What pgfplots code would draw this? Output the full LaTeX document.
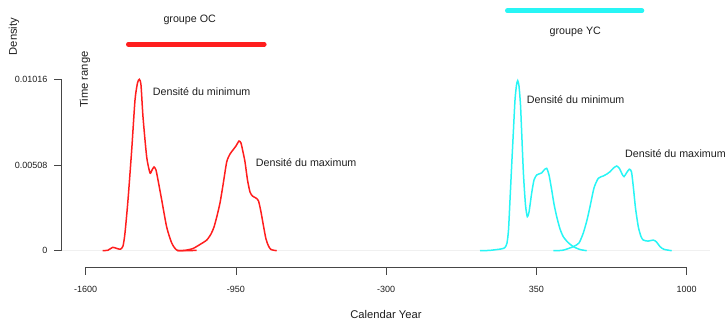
\documentclass[border=0pt]{standalone}
\usepackage{pgfplots}
\pgfplotsset{compat=1.18}
\usepackage{fontspec}
\setmainfont{Liberation Sans}
\definecolor{rred}{RGB}{255,30,30}
\definecolor{rcyan}{RGB}{40,245,245}
\definecolor{axgray}{RGB}{70,70,70}
\definecolor{txt}{RGB}{30,30,30}
\begin{document}
\begin{tikzpicture}
\useasboundingbox (0,0) rectangle (727bp,322bp);
% detached R-style y axis
\begin{axis}[
 at={(61.7bp,71.3bp)}, anchor=south west,
 scale only axis, width=10bp, height=171.4bp,
 xmin=0, xmax=1, ymin=0, ymax=0.01016,
 scaled y ticks=false,
 axis y line*=left, axis x line=none,
 axis line style={-, axgray, line width=1bp},
 tick align=outside, major tick length=7.5bp,
 ytick={0,0.00508,0.01016}, yticklabels={0,0.00508,0.01016},
 ytick style={axgray, line width=0.8bp},
 yticklabel shift=6.5bp,
 tick label style={font=\fontsize{9bp}{10bp}\selectfont, inner sep=0pt, text=txt},
]
\addplot[draw=none] coordinates {(0,0) (1,0.01016)};
\end{axis}
\begin{axis}[
 at={(85.7bp,71.3bp)}, anchor=south west,
 scale only axis, width=601bp, height=171.4bp,
 xmin=-1600, xmax=1000, ymin=0, ymax=0.01016,
 clip=false, scaled x ticks=false,
 axis x line*=bottom, axis y line=none,
 axis line style={-, axgray, line width=0.8bp},
 x axis line style={-, yshift=-16.6bp},
 tick align=outside, major tick length=7.5bp,
 xtick={-1600,-950,-300,350,1000}, xticklabels={-1600,-950,-300,350,1000},
 xtick style={axgray, line width=0.8bp, yshift=-16.6bp},
 xticklabel shift=27.9bp,
 tick label style={font=\fontsize{9bp}{10bp}\selectfont, inner sep=0pt, text=txt},
]
% baseline
\addplot[gray!12, line width=0.8bp] coordinates {(-1704,0) (1101,0)};
% red minimum density
\addplot[rred, line width=1.5bp, smooth, tension=0.4] coordinates {
(-1526.5,0) (-1503.5,0.00003) (-1483.2,0.00020) (-1464.6,0.00013) (-1449.5,0.00009)
(-1438.6,0.00028) (-1430.0,0.00105) (-1417.0,0.00301) (-1401.0,0.00597) (-1386.7,0.00893)
(-1375.9,0.00994) (-1368.1,0.01016) (-1360.8,0.00982) (-1352.1,0.00793) (-1336.1,0.00555)
(-1321.8,0.00461) (-1313.2,0.00478) (-1304.5,0.00496) (-1295.9,0.00478) (-1287.2,0.00419)
(-1271.2,0.00301) (-1249.6,0.00140) (-1228.0,0.00046) (-1206.3,0.00004) (-1170.4,0)
(-1119.8,0.00002)};
% red maximum density
\addplot[rred, line width=1.5bp, smooth, tension=0.4] coordinates {
(-1205.0,0) (-1170.4,0.00002) (-1135.8,0.00013) (-1105.5,0.00037) (-1076.5,0.00063)
(-1057.9,0.00099) (-1045.0,0.00140) (-1032.0,0.00206) (-1019.0,0.00283) (-1006.0,0.00389)
(-990.0,0.00526) (-975.7,0.00573) (-962.8,0.00597) (-949.8,0.00621) (-936.8,0.00650)
(-928.2,0.00638) (-919.5,0.00585) (-910.8,0.00526) (-900.0,0.00419) (-889.2,0.00348)
(-878.4,0.00324) (-863.3,0.00312) (-852.4,0.00295) (-841.6,0.00229) (-830.8,0.00146)
(-820.0,0.00069) (-809.2,0.00028) (-798.4,0.00007) (-773.7,0)};
% cyan minimum density
\addplot[rcyan, line width=1.5bp, smooth, tension=0.4] coordinates {
(105.8,0) (149.1,0.00002) (199.7,0.00011) (213.9,0.00019) (222.6,0.00046)
(229.1,0.00123) (235.6,0.00301) (242.9,0.00508) (249.9,0.00698) (257.2,0.00893)
(263.7,0.00982) (268.9,0.01008) (274.5,0.00976) (281.0,0.00864) (286.2,0.00698)
(294.0,0.00449) (302.6,0.00271) (310.4,0.00202) (317.8,0.00229) (329.4,0.00342)
(339.4,0.00419) (351.1,0.00449) (361.0,0.00455) (372.7,0.00461) (382.7,0.00478)
(394.3,0.00488) (404.3,0.00449) (416.0,0.00360) (425.9,0.00277) (437.6,0.00202)
(451.9,0.00129) (466.1,0.00083) (486.5,0.00049) (509.4,0.00024) (538.4,0.00007)
(567.4,0)};
% cyan maximum density
\addplot[rcyan, line width=1.5bp, smooth, tension=0.4] coordinates {
(422.9,0) (464.9,0.00003) (509.4,0.00024) (534.1,0.00046) (552.7,0.00105)
(568.7,0.00182) (581.7,0.00261) (599.0,0.00372) (617.6,0.00429) (639.2,0.00443)
(655.2,0.00455) (668.2,0.00468) (683.3,0.00490) (697.2,0.00502) (709.3,0.00487)
(720.1,0.00455) (728.7,0.00439) (739.6,0.00461) (751.7,0.00483) (761.2,0.00467)
(769.0,0.00379) (778.5,0.00253) (790.6,0.00142) (802.3,0.00084) (812.3,0.00063)
(832.6,0.00057) (855.5,0.00063) (869.3,0.00052) (884.5,0.00024) (901.8,0.00008)
(935.1,0)};
% time ranges
\addplot[rred, line width=4.6bp, line cap=round] coordinates {(-1415.7,0.012235) (-827.4,0.012235)};
\addplot[rcyan, line width=4.6bp, line cap=round] coordinates {(223.9,0.014226) (806.6,0.014226)};
% texts
\begin{scope}[every node/.style={font=\fontsize{10.7bp}{12bp}\selectfont, text=txt, inner sep=0pt}]
\node at (axis cs:-1150.1,0.013675) {groupe OC};
\node at (axis cs:518.1,0.012982) {groupe YC};
\node[anchor=west] at (axis cs:-1310.2,0.009425) {Densité du minimum};
\node[anchor=west] at (axis cs:-864.6,0.005216) {Densité du maximum};
\node[anchor=west] at (axis cs:307.8,0.008975) {Densité du minimum};
\node[anchor=west] at (axis cs:733.1,0.005774) {Densité du maximum};
\end{scope}
\begin{scope}[every node/.style={font=\fontsize{11.2bp}{13bp}\selectfont, text=txt, inner sep=0pt}]
\node[rotate=90] at (axis cs:-1603,0.010148) {Time range};
\node[rotate=90] at (axis cs:-1910.2,0.012697) {Density};
\node at (axis cs:-300.9,-0.003811) {Calendar Year};
\end{scope}
\end{axis}
\end{tikzpicture}
\end{document}
